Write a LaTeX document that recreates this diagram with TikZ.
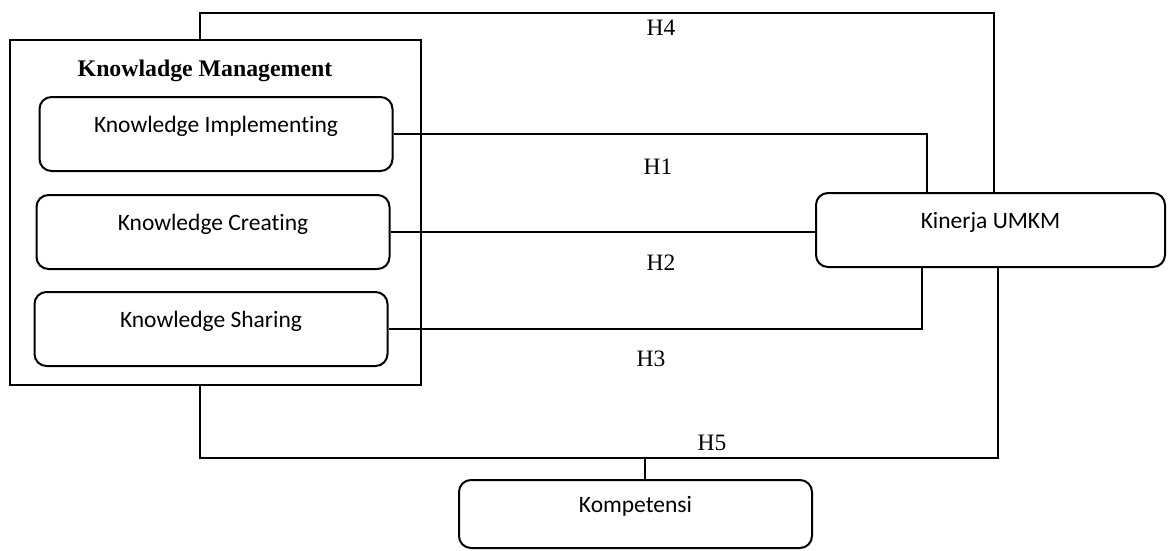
\documentclass[tikz,border=0pt]{standalone}
\usepackage{fontspec}
\setmainfont{Liberation Serif}
\newfontfamily\boxfont[Ligatures=NoCommon]{Carlito}
\usetikzlibrary{positioning}

\tikzset{
  varbox/.style={draw, line width=2pt, rounded corners=12pt,
    minimum width=353pt, minimum height=74pt,
    font=\boxfont\fontsize{23.5}{28}\selectfont,
    text height=17pt, text depth=20pt},
  hlabel/.style={font=\fontsize{23.5}{28}\selectfont, inner sep=0pt},
  link/.style={line width=1.9pt},
}

\begin{document}
\begin{tikzpicture}[x=1pt, y=-1pt]
\useasboundingbox (0,0) rectangle (1168,550);

\node[draw, line width=2.4pt, minimum width=411pt, minimum height=345pt] (km) at (215.5,212.5) {};
\node[font=\bfseries\fontsize{23.8}{28}\selectfont] (title) at (205,71) {Knowladge Management};
\node[varbox] (impl) at (216,134) {Knowledge Implementing};
\node[varbox, below=22pt of impl, xshift=-3pt] (create) {Knowledge Creating};
\node[varbox, below=21pt of create, xshift=-2pt] (share) {Knowledge Sharing};

\node[varbox, minimum width=349pt] (kin) at (990.5,230) {Kinerja UMKM};
\node[varbox, minimum height=68pt] (komp) at (635.5,514) {Kompetensi};

\coordinate (h1x) at (927,0);
\coordinate (h3x) at (922,0);
\coordinate (toprail) at (200,13);
\coordinate (h4x) at (994,13);
\coordinate (botrail) at (200,458);
\coordinate (h5x) at (998,458);
\coordinate (kompx) at (645,458);

\draw[link] (impl.east) -| (h1x |- kin.north);
\draw[link] (create.east) -- (create.east -| kin.west);
\draw[link] (share.east) -| (h3x |- kin.south);
\draw[link] (toprail |- km.north) -- (toprail) -- (h4x) -- (h4x |- kin.north);
\draw[link] (botrail |- km.south) -- (botrail) -- (h5x) -- (h5x |- kin.south);
\draw[link] (kompx) -- (kompx |- komp.north);

\node[hlabel] (h1) at (658,167) {H1};
\node[hlabel] (h2) at (661,263) {H2};
\node[hlabel] (h3) at (651,359) {H3};
\node[hlabel] (h4) at (661,28) {H4};
\node[hlabel] (h5) at (712,443) {H5};
\end{tikzpicture}
\end{document}
